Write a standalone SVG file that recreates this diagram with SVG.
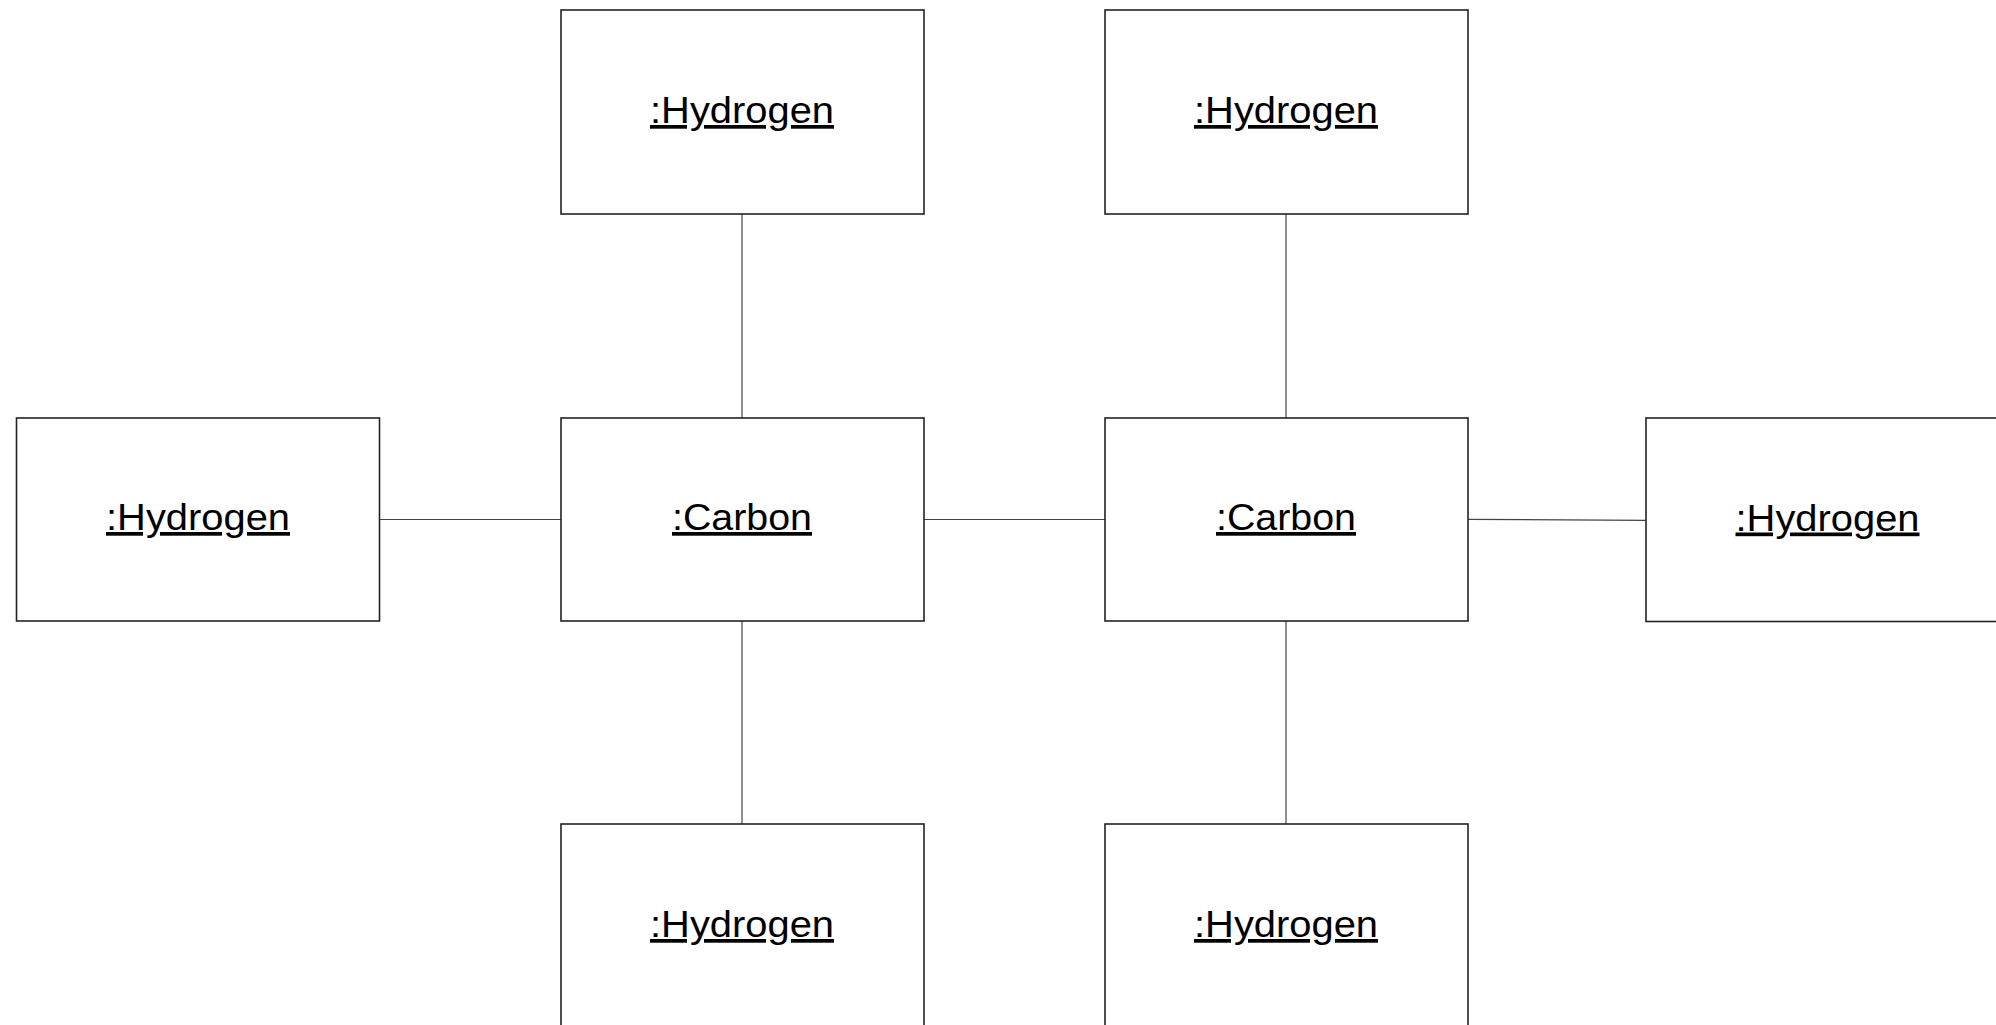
<svg xmlns="http://www.w3.org/2000/svg" width="1996" height="1025" viewBox="0 0 1996 1025">
  <style>
    .box { fill: #ffffff; stroke: #222222; stroke-width: 1.6; }
    .lbl { font-family: "Liberation Sans", Arial, sans-serif; font-size: 37px; fill: #000000; text-anchor: middle; text-decoration: underline; }
    .conn { stroke: #444444; stroke-width: 1.2; fill: none; }
  </style>
  <rect x="0" y="0" width="1996" height="1025" fill="#ffffff"/>
  <g id="connectors">
    <line class="conn" x1="742" y1="214" x2="742" y2="418"/>
    <line class="conn" x1="1286" y1="214" x2="1286" y2="418"/>
    <line class="conn" x1="379.5" y1="519.5" x2="561" y2="519.5"/>
    <line class="conn" x1="924" y1="519.5" x2="1105" y2="519.5"/>
    <line class="conn" x1="1468" y1="519.3" x2="1646" y2="520.3"/>
    <line class="conn" x1="742" y1="621" x2="742" y2="824"/>
    <line class="conn" x1="1286" y1="621" x2="1286" y2="824"/>
  </g>
  <g id="h1">
    <rect class="box" x="561" y="10" width="363" height="204"/>
    <text class="lbl" x="742" y="123" textLength="184" lengthAdjust="spacingAndGlyphs">:Hydrogen</text>
  </g>
  <g id="h2">
    <rect class="box" x="1105" y="10" width="363" height="204"/>
    <text class="lbl" x="1286" y="123" textLength="184" lengthAdjust="spacingAndGlyphs">:Hydrogen</text>
  </g>
  <g id="h3">
    <rect class="box" x="16.5" y="418" width="363" height="203"/>
    <text class="lbl" x="198" y="530" textLength="184" lengthAdjust="spacingAndGlyphs">:Hydrogen</text>
  </g>
  <g id="c1">
    <rect class="box" x="561" y="418" width="363" height="203"/>
    <text class="lbl" x="742" y="530" textLength="140" lengthAdjust="spacingAndGlyphs">:Carbon</text>
  </g>
  <g id="c2">
    <rect class="box" x="1105" y="418" width="363" height="203"/>
    <text class="lbl" x="1286" y="530" textLength="140" lengthAdjust="spacingAndGlyphs">:Carbon</text>
  </g>
  <g id="h4">
    <rect class="box" x="1646" y="418" width="363" height="203.5"/>
    <text class="lbl" x="1827.5" y="530.5" textLength="184" lengthAdjust="spacingAndGlyphs">:Hydrogen</text>
  </g>
  <g id="h5">
    <rect class="box" x="561" y="824" width="363" height="204"/>
    <text class="lbl" x="742" y="937" textLength="184" lengthAdjust="spacingAndGlyphs">:Hydrogen</text>
  </g>
  <g id="h6">
    <rect class="box" x="1105" y="824" width="363" height="204"/>
    <text class="lbl" x="1286" y="937" textLength="184" lengthAdjust="spacingAndGlyphs">:Hydrogen</text>
  </g>
</svg>
